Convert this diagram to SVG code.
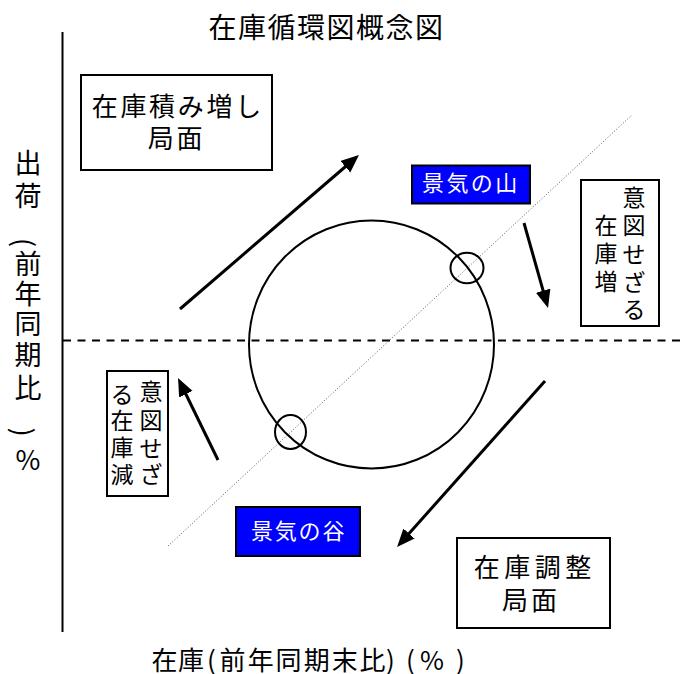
<svg xmlns="http://www.w3.org/2000/svg" width="686" height="674" viewBox="0 0 686 674">
<style>
text{font-family:"Noto Sans CJK JP","Noto Sans CJK SC",sans-serif;fill:#000}
.box{fill:#fff;stroke:#000;stroke-width:2}
.blue{fill:#0000ff;stroke:#000;stroke-width:2}
.wt{fill:#fff;font-size:22px}
.big{font-size:26px}
.v{font-size:23px;text-anchor:middle}
.ax{font-size:27px;text-anchor:middle}
.arrow{stroke:#000;stroke-width:3;fill:none;marker-end:url(#ah)}
</style>
<defs>
<marker id="ah" markerUnits="userSpaceOnUse" markerWidth="20" markerHeight="16" refX="8" refY="7.5" orient="auto">
<path d="M0,0 L18,7.5 L0,15 Z" fill="#000"/>
</marker>
</defs>
<rect width="686" height="674" fill="#fff"/>
<g id="title"><text x="208.6" y="37.6" style="font-size:28px;letter-spacing:1.5px">在庫循環図概念図</text></g>
<g id="axes">
<line x1="62.5" y1="32" x2="62.5" y2="632" stroke="#000" stroke-width="2"/>
<line x1="63" y1="340.5" x2="686" y2="340.5" stroke="#000" stroke-width="2" stroke-dasharray="8,6.5"/>
<line x1="168" y1="546" x2="632" y2="115" stroke="#555" stroke-width="1" stroke-dasharray="1,2"/>
</g>
<g id="y-label">
<text class="ax" x="28" y="172.5">出</text>
<text class="ax" x="28" y="205.5">荷</text>
<text class="ax" transform="translate(25.5,242.5) rotate(90)" x="0" y="0" dominant-baseline="central">(</text>
<text class="ax" x="28" y="273.5">前</text>
<text class="ax" x="28" y="303.5">年</text>
<text class="ax" x="28" y="333.5">同</text>
<text class="ax" x="28" y="365">期</text>
<text class="ax" x="28" y="398">比</text>
<text class="ax" transform="translate(24,432) rotate(90)" x="0" y="0" dominant-baseline="central">)</text>
<text class="ax" x="28" y="470">%</text>
</g>
<g id="x-label"><text class="big" y="670" x="151.5 178 207 219.5 247.7 275.4 303.7 331.7 359.4 386 406 420 456">在庫(前年同期末比)(%)</text></g>
<g id="cycle">
<ellipse cx="371.5" cy="344.5" rx="122.5" ry="124" fill="none" stroke="#000" stroke-width="2"/>
<ellipse cx="467" cy="268" rx="16.5" ry="15.3" fill="none" stroke="#000" stroke-width="2"/>
<ellipse cx="290.5" cy="432" rx="15.5" ry="17" fill="none" stroke="#000" stroke-width="2"/>
</g>
<g id="connectors">
<line class="arrow" x1="180" y1="309" x2="351.4" y2="161.5"/>
<line class="arrow" x1="524" y1="223" x2="545.3" y2="298.4"/>
<line class="arrow" x1="545" y1="381" x2="403.7" y2="539.5"/>
<line class="arrow" x1="218" y1="460" x2="182.4" y2="387"/>
</g>
<g id="stock-build">
<rect class="box" x="81" y="75" width="191" height="95"/>
<text class="big" x="91.7" y="116.4" style="letter-spacing:2.7px">在庫積み増し</text>
<text class="big" x="147.7" y="148" style="letter-spacing:2.7px">局面</text>
</g>
<g id="stock-adjust">
<rect class="box" x="457" y="538" width="153" height="90"/>
<text class="big" y="577" x="473.7 504.2 534.7 565.2">在庫調整</text>
<text class="big" y="610" x="502 531">局面</text>
</g>
<g id="peak">
<rect class="blue" x="412" y="165.5" width="118" height="38"/>
<text class="wt" x="422" y="191.4" style="letter-spacing:2.4px">景気の山</text>
</g>
<g id="trough">
<rect class="blue" x="236" y="507" width="124" height="49"/>
<text class="wt" x="251" y="539.4" style="letter-spacing:1.8px">景気の谷</text>
</g>
<g id="unintended-increase">
<rect class="box" x="581" y="180" width="78" height="146"/>
<text class="v" x="634" y="205.7">意</text>
<text class="v" x="634" y="233.7">図</text>
<text class="v" x="634" y="262.7">せ</text>
<text class="v" x="634" y="290.7">ざ</text>
<text class="v" x="634" y="317.7">る</text>
<text class="v" x="606" y="233.7">在</text>
<text class="v" x="606" y="261.7">庫</text>
<text class="v" x="606" y="289.7">増</text>
</g>
<g id="unintended-decrease">
<rect class="box" x="107" y="371" width="61" height="125"/>
<text class="v" x="151" y="399.7">意</text>
<text class="v" x="151" y="428.7">図</text>
<text class="v" x="151" y="456.7">せ</text>
<text class="v" x="151" y="482.7">ざ</text>
<text class="v" x="122" y="402.7">る</text>
<text class="v" x="122" y="428.7">在</text>
<text class="v" x="122" y="456.2">庫</text>
<text class="v" x="122" y="482.7">減</text>
</g>
</svg>
